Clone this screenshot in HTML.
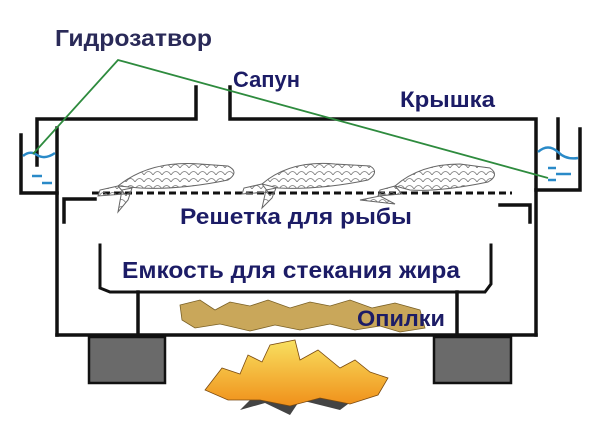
<!DOCTYPE html>
<html><head><meta charset="utf-8"><style>
html,body{margin:0;padding:0;background:#fff;width:600px;height:425px;overflow:hidden}
svg{display:block}
text{font-family:"Liberation Sans",sans-serif;font-weight:bold}
</style></head><body>
<svg width="600" height="425" viewBox="0 0 600 425" xmlns="http://www.w3.org/2000/svg">
<defs>
<pattern id="sc" width="9" height="7" patternUnits="userSpaceOnUse">
<path d="M0 7 Q4.5 0 9 7" fill="none" stroke="#777" stroke-width="0.8"/>
</pattern>
<linearGradient id="fire" x1="0" y1="0" x2="0" y2="1">
<stop offset="0" stop-color="#f8e060"/><stop offset="1" stop-color="#f0901a"/>
</linearGradient>
</defs>
<g stroke="#111" stroke-width="3.5" fill="none" stroke-linecap="square">
<polyline points="37,165 37,119 196,119 196,87"/>
<polyline points="230,87 230,119 536,119 536,335"/>
<line x1="558" y1="119" x2="558" y2="158"/>
<polyline points="21,135 21,193 57,193"/>
<line x1="57" y1="128" x2="57" y2="335"/>
<polyline points="580,129 580,190 536,190"/>
<polyline points="95,199 64,199 64,222"/>
<polyline points="500,205 530,205 530,222"/>
<polyline points="100,245 100,288 110,292 485,292 491,284 491,245" stroke-width="3"/>
<line x1="138" y1="292" x2="138" y2="335"/>
<line x1="457" y1="292" x2="457" y2="335"/>
<line x1="57" y1="335" x2="536" y2="335"/>
</g>
<g stroke="#2a8ac8" stroke-width="2.5" fill="none">
<path d="M23 156 Q30 150 37 155 Q45 160 55 153"/>
<path d="M538 152 Q548 143 558 152 Q566 160 578 158"/>
<line x1="32" y1="176" x2="42" y2="176"/><line x1="42" y1="183" x2="52" y2="183"/>
<line x1="548" y1="168" x2="556" y2="168"/><line x1="556" y1="174" x2="571" y2="174"/><line x1="548" y1="180" x2="556" y2="180"/>
</g>
<line x1="92" y1="193" x2="512" y2="193" stroke="#111" stroke-width="3" stroke-dasharray="7,4"/>
<g stroke="#666" stroke-width="1" fill="url(#sc)">
<path d="M118 186 Q150 160 200 164 L228 166 Q240 172 228 180 Q180 190 140 188 Z"/>
<path d="M118 186 L100 190 L98 196 L125 194 Z M122 190 L118 212 L128 200 L132 188 Z"/>
<path d="M262 184 Q290 160 335 164 L370 166 Q380 172 368 180 Q320 190 278 188 Z"/>
<path d="M262 184 L244 188 L242 194 L268 192 Z M266 190 L262 208 L272 198 L276 188 Z"/>
<path d="M395 186 Q420 164 460 164 L490 168 Q500 175 488 182 Q440 192 410 190 Z"/>
<path d="M395 186 L380 190 L378 196 L402 194 Z M360 200 L380 196 L395 204 Z"/>
</g>
<polyline points="33,154 118,60 548,178" fill="none" stroke="#2e8b3e" stroke-width="1.8"/>
<g fill="#c9a75a" stroke="#7a6025" stroke-width="0.8">
<path d="M180 305 L200 300 L215 310 L230 302 L250 306 L268 300 L290 308 L310 302 L330 306 L350 300 L372 308 L395 303 L420 310 L425 328 L400 332 L380 326 L355 330 L330 324 L300 330 L275 325 L250 331 L220 324 L195 328 L182 320 Z"/>
</g>
<path d="M255 395 L240 410 L265 403 L290 415 L300 400 L340 410 L360 395 Z" fill="#444"/>
<path d="M205 390 L222 368 L240 374 L248 355 L262 362 L270 345 L295 340 L300 360 L318 350 L340 368 L355 360 L370 372 L388 378 L378 395 L350 404 L320 398 L290 406 L260 400 L228 400 Z" fill="url(#fire)" stroke="#7a4a10" stroke-width="0.8"/>
<rect x="89" y="337" width="76" height="46" fill="#6a6a6a" stroke="#111" stroke-width="2.5"/>
<rect x="434" y="337" width="77" height="46" fill="#6a6a6a" stroke="#111" stroke-width="2.5"/>
<text x="55" y="46" font-size="23" fill="#2a2a58" textLength="157" lengthAdjust="spacingAndGlyphs">Гидрозатвор</text>
<text x="233" y="87" font-size="22" fill="#1c1c66" textLength="67" lengthAdjust="spacingAndGlyphs">Сапун</text>
<text x="400" y="107" font-size="22" fill="#1c1c66" textLength="95" lengthAdjust="spacingAndGlyphs">Крышка</text>
<text x="180" y="224" font-size="22" fill="#1c1c66" textLength="232" lengthAdjust="spacingAndGlyphs">Решетка для рыбы</text>
<text x="122" y="278" font-size="23" fill="#1c1c66" textLength="338" lengthAdjust="spacingAndGlyphs">Емкость для стекания жира</text>
<text x="357" y="326" font-size="22" fill="#1c1c66" textLength="88" lengthAdjust="spacingAndGlyphs">Опилки</text>
</svg>
</body></html>
